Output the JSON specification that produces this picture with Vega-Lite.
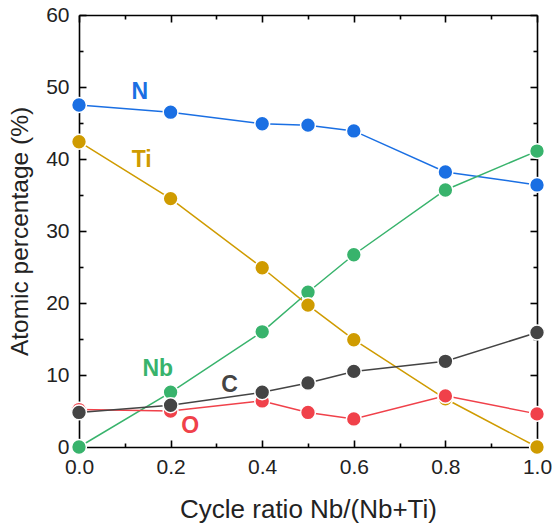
{
  "$schema": "https://vega.github.io/schema/vega-lite/v6.json",
  "width": 458,
  "height": 432,
  "autosize": "none",
  "padding": {"left": 79, "top": 15, "right": 18, "bottom": 77},
  "background": "white",
  "config": {
    "view": {"stroke": null},
    "font": "Liberation Sans",
    "axis": {
      "grid": false,
      "domainColor": "#000000",
      "domainWidth": 1.6,
      "tickColor": "#000000",
      "tickWidth": 1.6,
      "labelColor": "#222222",
      "titleColor": "#222222",
      "labelFont": "Liberation Sans",
      "titleFont": "Liberation Sans",
      "labelFontSize": 21,
      "titleFontSize": 24.5,
      "titleFontWeight": "normal",
      "labelFlush": false
    }
  },
  "datasets": {
    "main": [
      {"el": "N", "x": 0.0, "v": 47.5},
      {"el": "N", "x": 0.2, "v": 46.5},
      {"el": "N", "x": 0.4, "v": 44.9},
      {"el": "N", "x": 0.5, "v": 44.7},
      {"el": "N", "x": 0.6, "v": 43.9},
      {"el": "N", "x": 0.8, "v": 38.2},
      {"el": "N", "x": 1.0, "v": 36.4},
      {"el": "Nb", "x": 0.0, "v": 0.0},
      {"el": "Nb", "x": 0.2, "v": 7.6},
      {"el": "Nb", "x": 0.4, "v": 16.0},
      {"el": "Nb", "x": 0.5, "v": 21.5},
      {"el": "Nb", "x": 0.6, "v": 26.7},
      {"el": "Nb", "x": 0.8, "v": 35.7},
      {"el": "Nb", "x": 1.0, "v": 41.1},
      {"el": "Ti", "x": 0.0, "v": 42.4},
      {"el": "Ti", "x": 0.2, "v": 34.5},
      {"el": "Ti", "x": 0.4, "v": 24.9},
      {"el": "Ti", "x": 0.5, "v": 19.7},
      {"el": "Ti", "x": 0.6, "v": 14.9},
      {"el": "Ti", "x": 0.8, "v": 6.7},
      {"el": "Ti", "x": 1.0, "v": 0.0},
      {"el": "O", "x": 0.0, "v": 5.2},
      {"el": "O", "x": 0.2, "v": 5.0},
      {"el": "O", "x": 0.4, "v": 6.4},
      {"el": "O", "x": 0.5, "v": 4.8},
      {"el": "O", "x": 0.6, "v": 3.9},
      {"el": "O", "x": 0.8, "v": 7.1},
      {"el": "O", "x": 1.0, "v": 4.6},
      {"el": "C", "x": 0.0, "v": 4.8},
      {"el": "C", "x": 0.2, "v": 5.8},
      {"el": "C", "x": 0.4, "v": 7.6},
      {"el": "C", "x": 0.5, "v": 8.9},
      {"el": "C", "x": 0.6, "v": 10.5},
      {"el": "C", "x": 0.8, "v": 11.9},
      {"el": "C", "x": 1.0, "v": 15.9}
    ],
    "labels": [
      {"el": "N", "x": 0.133, "v": 49.3},
      {"el": "Ti", "x": 0.137, "v": 39.8},
      {"el": "Nb", "x": 0.172, "v": 10.8},
      {"el": "C", "x": 0.329, "v": 8.6},
      {"el": "O", "x": 0.243, "v": 2.9}
    ]
  },
  "layer": [
    {
      "data": {"name": "main"},
      "mark": {"type": "line", "strokeWidth": 1.5},
      "encoding": {
        "x": {
          "field": "x", "type": "quantitative",
          "scale": {"domain": [0, 1], "nice": false},
          "title": "Cycle ratio Nb/(Nb+Ti)",
          "axis": {
            "orient": "bottom",
            "values": [0, 0.1, 0.2, 0.3, 0.4, 0.5, 0.6, 0.7, 0.8, 0.9, 1.0],
            "labelExpr": "round(datum.value*10) % 2 == 0 ? format(datum.value, '.1f') : ''",
            "tickSize": {"condition": {"test": "round(datum.value*10) % 2 == 0", "value": -7}, "value": -4},
            "labelPadding": 16,
            "titleFontSize": 26,
            "titlePadding": 19
          }
        },
        "y": {
          "field": "v", "type": "quantitative",
          "scale": {"domain": [0, 60], "nice": false},
          "title": "Atomic percentage (%)",
          "axis": {
            "orient": "left",
            "values": [0, 5, 10, 15, 20, 25, 30, 35, 40, 45, 50, 55, 60],
            "labelExpr": "datum.value % 10 == 0 ? format(datum.value, 'd') : ''",
            "tickSize": {"condition": {"test": "datum.value % 10 == 0", "value": -7}, "value": -4},
            "labelPadding": 17,
            "titlePadding": 13
          }
        },
        "color": {
          "field": "el", "type": "nominal",
          "scale": {"domain": ["N", "Ti", "Nb", "C", "O"], "range": ["#1a6fe3", "#cf9b00", "#38b36c", "#444444", "#f0414a"]},
          "legend": null
        }
      }
    },
    {
      "data": {"name": "main"},
      "mark": {"type": "point", "filled": true, "size": 220, "stroke": "white", "strokeWidth": 1.5, "opacity": 1},
      "encoding": {
        "x": {"field": "x", "type": "quantitative", "axis": null},
        "y": {"field": "v", "type": "quantitative", "axis": null},
        "color": {"field": "el", "type": "nominal", "legend": null}
      }
    },
    {
      "data": {"name": "labels"},
      "mark": {"type": "text", "fontSize": 23, "fontWeight": "bold", "align": "center", "baseline": "middle"},
      "encoding": {
        "x": {
          "field": "x", "type": "quantitative", "title": null,
          "axis": {
            "orient": "top",
            "values": [0, 0.1, 0.2, 0.3, 0.4, 0.5, 0.6, 0.7, 0.8, 0.9, 1.0],
            "labels": false,
            "tickSize": {"condition": {"test": "round(datum.value*10) % 2 == 0", "value": -7}, "value": -4}
          }
        },
        "y": {
          "field": "v", "type": "quantitative", "title": null,
          "axis": {
            "orient": "right",
            "values": [0, 5, 10, 15, 20, 25, 30, 35, 40, 45, 50, 55, 60],
            "labels": false,
            "tickSize": {"condition": {"test": "datum.value % 10 == 0", "value": -7}, "value": -4}
          }
        },
        "text": {"field": "el"},
        "color": {"field": "el", "type": "nominal", "legend": null}
      }
    }
  ],
  "resolve": {"axis": {"x": "independent", "y": "independent"}}
}
